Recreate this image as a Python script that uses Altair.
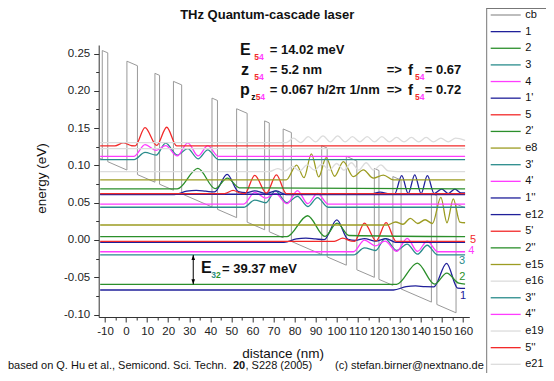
import altair as alt
import pandas as pd

FONT = "Liberation Sans"

# ---------------- legend / series names and colours ----------------
states = ["cb", "1", "2", "3", "4", "1'", "5", "2'", "e8", "3'", "4'", "1''", "e12",
          "5'", "2''", "e15", "e16", "3''", "4''", "e19", "5''", "e21"]
NAVY, GREEN, TEAL, MAG, RED, OLIVE, LGRAY, CBG = ("#20209a", "#2b8f2b", "#2a8c8c", "#ff3cff",
                                                 "#f22a2a", "#9c9c22", "#dcdcdc", "#999999")
colors = [CBG, NAVY, GREEN, TEAL, MAG, NAVY, RED, GREEN, OLIVE, TEAL, MAG, NAVY, NAVY,
          RED, GREEN, OLIVE, LGRAY, TEAL, MAG, LGRAY, RED, LGRAY]

# ---------------- conduction band profile (nm, eV) ----------------
cb_x = [-12.3, -11.3, -11.3, -8.7, -8.7, 0.4, 0.4, 5.4, 5.4, 13.7, 13.7, 15.9, 15.9,
        22.5, 22.5, 26.4, 26.4, 40.8, 40.8, 43.4, 43.4, 52.5, 52.5, 57.5, 57.5,
        65.8, 65.8, 68.0, 68.0, 74.6, 74.6, 78.5, 78.5, 92.9, 92.9, 95.5, 95.5,
        104.6, 104.6, 109.6, 109.6, 117.9, 117.9, 120.1, 120.1, 126.7, 126.7, 130.6, 130.6,
        145.0, 145.0, 147.6, 147.6, 156.7, 156.7, 161.0]
cb_e = [0.1094, 0.1081, 0.2541, 0.2510, 0.1050, 0.0938, 0.2398, 0.2337, 0.0877, 0.0775, 0.2235,
        0.2208, 0.0748, 0.0667, 0.2127, 0.2080, 0.0620, 0.0443, 0.1903, 0.1871, 0.0411,
        0.0300, 0.1760, 0.1699, 0.0239, 0.0137, 0.1597, 0.1570, 0.0110, 0.0029, 0.1489,
        0.1441, -0.0019, -0.0195, 0.1265, 0.1233, -0.0227, -0.0338, 0.1122, 0.1060, -0.0400,
        -0.0501, 0.0959, 0.0932, -0.0528, -0.0609, 0.0851, 0.0803, -0.0657, -0.0833, 0.0627,
        0.0595, -0.0865, -0.0977, 0.0483, 0.0431]

# ---------------- wavefunctions (psi^2 drawn at eigen-energy) ----------------
x_1 = [-12.3, 127.0, 133.0, 137.5, 142.0, 146.2, 152.2, 157.5, 161.0]
e_1 = [-0.0671, -0.0671, -0.0626, -0.0616, -0.0626, -0.0628, -0.0313, -0.0645, -0.0648]
x_1p = [-12.3, 75.0, 80.9, 85.4, 89.9, 94.1, 100.1, 105.4, 109.0, 113.2, 118.5, 123.5, 128.0, 161.0]
e_1p = [-0.0031, -0.0031, 0.0014, 0.0024, 0.0014, 0.0004, 0.0269, 0.0009, -0.0006, 0.0019,
        -0.0016, 0.0019, -0.0031, -0.0031]
x_1pp = [-12.3, 22.9, 28.8, 33.3, 37.8, 42.0, 48.0, 53.3, 56.9, 61.1, 66.4, 71.4, 75.9, 161.0]
e_1pp = [0.0609, 0.0609, 0.0654, 0.0664, 0.0654, 0.0644, 0.0879, 0.0649, 0.0634, 0.0659,
         0.0624, 0.0659, 0.0609, 0.0609]
x_2 = [-12.3, 128.5, 138.3, 146.5, 152.3, 158.0, 161.0]
e_2 = [-0.0595, -0.0595, -0.0310, -0.0592, -0.0445, -0.0580, -0.0592]
x_2p = [-12.3, 76.4, 86.2, 94.4, 100.2, 105.9, 161.0]
e_2p = [0.0045, 0.0045, 0.0325, 0.0048, 0.0225, 0.0060, 0.0045]
x_2pp = [-12.3, 24.3, 34.1, 42.3, 48.1, 53.8, 161.0]
e_2pp = [0.0685, 0.0685, 0.0960, 0.0688, 0.0830, 0.0700, 0.0685]
x_3 = [-12.3, 108.0, 113.2, 118.5, 123.0, 128.5, 133.5, 138.4, 143.0, 148.0, 161.0]
e_3 = [-0.0201, -0.0201, -0.0106, -0.0141, 0.0019, -0.0141, -0.0056, -0.0191, -0.0071, -0.0201, -0.0201]
x_3p = [-12.3, 55.9, 61.1, 66.4, 70.9, 76.4, 81.4, 86.3, 90.9, 95.9, 161.0]
e_3p = [0.0439, 0.0439, 0.0534, 0.0499, 0.0659, 0.0499, 0.0584, 0.0449, 0.0569, 0.0439, 0.0439]
x_3pp = [-12.3, 3.8, 9.0, 14.3, 18.8, 24.3, 29.3, 34.2, 38.8, 43.8, 161.0]
e_3pp = [0.1079, 0.1079, 0.1174, 0.1139, 0.1299, 0.1139, 0.1224, 0.1089, 0.1209, 0.1079, 0.1079]
x_4 = [-12.3, 108.0, 113.2, 118.5, 123.0, 128.5, 133.5, 138.4, 143.0, 148.0, 161.0]
e_4 = [-0.0158, -0.0158, -0.0001, -0.0078, -0.0015, -0.0153, 0.0022, -0.0153, -0.0015, -0.0158, -0.0158]
x_4p = [-12.3, 55.9, 61.1, 66.4, 70.9, 76.4, 81.4, 86.3, 90.9, 95.9, 161.0]
e_4p = [0.0482, 0.0482, 0.0639, 0.0562, 0.0625, 0.0487, 0.0662, 0.0487, 0.0625, 0.0482, 0.0482]
x_4pp = [-12.3, 3.8, 9.0, 14.3, 18.8, 24.3, 29.3, 34.2, 38.8, 43.8, 161.0]
e_4pp = [0.1122, 0.1122, 0.1279, 0.1202, 0.1265, 0.1127, 0.1302, 0.1127, 0.1265, 0.1122, 0.1122]
x_5 = [-12.3, 98.9, 102.9, 106.9, 108.5, 113.2, 118.75, 123.5, 128.2, 161.0]
e_5 = [-0.0018, -0.0018, 0.0024, -0.0016, -0.0018, 0.0227, -0.0012, 0.0232, -0.0018, -0.0018]
x_5p = [-12.3, 46.8, 50.8, 54.8, 56.4, 61.1, 66.65, 71.4, 76.1, 161.0]
e_5p = [0.0622, 0.0622, 0.0664, 0.0624, 0.0622, 0.0867, 0.0628, 0.0872, 0.0622, 0.0622]
x_5pp = [-12.3, -5.3, -1.3, 2.7, 4.3, 9.0, 14.55, 19.3, 24.0, 161.0]
e_5pp = [0.1262, 0.1262, 0.1304, 0.1264, 0.1262, 0.1507, 0.1268, 0.1512, 0.1262, 0.1262]
x_e8 = [-12.3, 124.0, 128.0, 131.5, 135.0, 138.5, 142.0, 145.5, 149.5, 152.4, 155.4, 158.5, 161.0]
e_e8 = [0.0201, 0.0201, 0.0241, 0.0211, 0.0291, 0.0221, 0.0271, 0.0221, 0.0571, 0.0231, 0.0551, 0.0241, 0.0231]
x_e12 = [-12.3, 116.0, 120.6, 125.0, 127.5, 130.9, 134.0, 137.1, 140.1, 143.1, 146.3, 149.9,
         153.0, 156.2, 159.0, 161.0]
e_e12 = [0.0613, 0.0613, 0.0643, 0.0618, 0.0613, 0.0863, 0.0623, 0.0873, 0.0623, 0.0863,
         0.0623, 0.0683, 0.0623, 0.0683, 0.0633, 0.0633]
x_e15 = [-12.3, 76.0, 81.0, 84.5, 88.0, 91.5, 95.0, 99.0, 103.2, 107.9, 112.7, 117.4, 122.2, 127.0, 161.0]
e_e15 = [0.0805, 0.0805, 0.1005, 0.0835, 0.1155, 0.0845, 0.1105, 0.0855, 0.1050, 0.0850,
         0.0940, 0.0830, 0.0870, 0.0805, 0.0805]
x_e16 = [-12.3, 68.0, 72.0, 75.5, 79.0, 82.5, 86.0, 89.5, 93.0, 96.5, 100.0, 103.5, 107.0,
         110.5, 114.0, 117.5, 121.0, 124.5, 129.0, 161.0]
e_e16 = [0.0916, 0.0916, 0.0956, 0.0926, 0.0986, 0.0926, 0.1006, 0.0936, 0.1016, 0.0936,
         0.1026, 0.0936, 0.1036, 0.0936, 0.1036, 0.0936, 0.1006, 0.0926, 0.0916, 0.0916]
x_e19 = [-12.3, 161.0]
e_e19 = [0.1226, 0.1226]
x_e21 = [-12.3, 76.0, 79.5, 83.0, 86.5, 90.0, 93.5, 97.0, 100.5, 104.0, 107.5, 111.0, 114.5,
         118.0, 121.5, 125.0, 128.5, 132.0, 135.5, 139.0, 142.5, 146.0, 149.5, 153.0, 156.5, 161.0]
e_e21 = [0.1305, 0.1305, 0.1365, 0.1305, 0.1385, 0.1315, 0.1395, 0.1315, 0.1395, 0.1315,
         0.1385, 0.1315, 0.1385, 0.1315, 0.1385, 0.1315, 0.1375, 0.1315, 0.1375, 0.1315,
         0.1375, 0.1315, 0.1365, 0.1315, 0.1365, 0.1335]

# E32 arrow: between levels 3 and 2, at this distance
arrow_x = 31.9
level_3 = -0.0201
level_2 = -0.0595

# axis ticks
x_ticks = [-10, -5, 0, 5, 10, 15, 20, 25, 30, 35, 40, 45, 50, 55, 60, 65, 70, 75, 80, 85,
           90, 95, 100, 105, 110, 115, 120, 125, 130, 135, 140, 145, 150, 155, 160]
y_ticks = [-0.1, -0.075, -0.05, -0.025, 0.0, 0.025, 0.05, 0.075, 0.1, 0.125, 0.15,
           0.175, 0.2, 0.225, 0.25]

curves = {
    "1": (x_1, e_1), "2": (x_2, e_2), "3": (x_3, e_3), "4": (x_4, e_4), "1'": (x_1p, e_1p),
    "5": (x_5, e_5), "2'": (x_2p, e_2p), "e8": (x_e8, e_e8), "3'": (x_3p, e_3p),
    "4'": (x_4p, e_4p), "1''": (x_1pp, e_1pp), "e12": (x_e12, e_e12), "5'": (x_5p, e_5p),
    "2''": (x_2pp, e_2pp), "e15": (x_e15, e_e15), "e16": (x_e16, e_e16),
    "3''": (x_3pp, e_3pp), "4''": (x_4pp, e_4pp), "e19": (x_e19, e_e19),
    "5''": (x_5pp, e_5pp), "e21": (x_e21, e_e21),
}
rows = []
for s in states[1:]:
    xs, es = curves[s]
    for i, (a, b) in enumerate(zip(xs, es)):
        rows.append({"state": s, "i": i, "x": a, "E": b})
waves = pd.DataFrame(rows)
cb = pd.DataFrame({"x": cb_x, "E": cb_e, "i": list(range(len(cb_x)))})
arrow = pd.DataFrame({"x": [arrow_x], "E": [level_3], "E2": [level_2]})
arrow_up = pd.DataFrame({"x": [arrow_x], "E": [level_3]})
arrow_dn = pd.DataFrame({"x": [arrow_x], "E": [level_2]})
leg = pd.DataFrame({"state": states})
dummy = pd.DataFrame({"d": [0]})

# ---------------- scales / axes ----------------
xscale = alt.Scale(domain=[-13.0, 163.0], nice=False, zero=False)
yscale = alt.Scale(domain=[-0.1033, 0.2615], nice=False, zero=False)
cscale = alt.Scale(domain=states, range=colors)

xmaj = "datum.value % 10 === 0"
ymaj = "abs(datum.value * 20 - round(datum.value * 20)) < 0.001"
xaxis = alt.Axis(values=x_ticks, labelExpr=xmaj + " ? replace(datum.label, '\u2212', '-') : ''",
                 tickSize={"condition": {"test": xmaj, "value": 5}, "value": 3},
                 labelOverlap=False, labelFlush=False, labelPadding=3,
                 titleY=36, titleBaseline="middle", titleX=184)
yaxis = alt.Axis(values=y_ticks,
                 labelExpr=ymaj + " ? replace(format(datum.value, '.2f'), '\u2212', '-') : ''",
                 tickSize={"condition": {"test": ymaj, "value": 5}, "value": 3},
                 labelOverlap=False, labelFlush=False, labelPadding=4,
                 titleX=-57, titleY=133, titleBaseline="middle", titleAngle=270)

X = alt.X("x:Q", scale=xscale, axis=xaxis, title="distance (nm)")
Y = alt.Y("E:Q", scale=yscale, axis=yaxis, title="energy (eV)")

cb_layer = alt.Chart(cb).mark_line(color=CBG, strokeWidth=1, clip=True).encode(
    x=X, y=Y, order=alt.Order("i:Q"))
wave_layer = alt.Chart(waves).mark_line(strokeWidth=1.3, interpolate="monotone", clip=True).encode(
    x=X, y=Y, order=alt.Order("i:Q"),
    color=alt.Color("state:N", scale=cscale, legend=None))
arrow_rule = alt.Chart(arrow).mark_rule(color="black", strokeWidth=1).encode(
    x=X, y=Y, y2=alt.Y2("E2:Q"))
head_up = alt.Chart(arrow_up).mark_point(shape="M0,0L-0.6,1.7L0.6,1.7Z", filled=True, size=36,
                                         color="black", opacity=1).encode(x=X, y=Y)
head_dn = alt.Chart(arrow_dn).mark_point(shape="M0,0L-0.6,-1.7L0.6,-1.7Z", filled=True, size=36,
                                         color="black", opacity=1).encode(x=X, y=Y)
main = alt.layer(cb_layer, wave_layer, arrow_rule, head_up, head_dn)

# ---------------- legend panel ----------------
legY = alt.Y("state:N", scale=alt.Scale(type="point", domain=states, range=[-30, 319.3], padding=0),
             axis=None)
leg_lines = alt.Chart(leg).mark_rule(strokeWidth=1.3).encode(
    x=alt.value(392), x2=alt.value(422), y=legY,
    color=alt.Color("state:N", scale=cscale, legend=None))
leg_text = alt.Chart(leg).mark_text(align="left", baseline="middle", font=FONT, fontSize=11,
                                    color="#111").encode(x=alt.value(426.5), y=legY, text="state:N")
legend = alt.layer(leg_lines, leg_text)
box_left = alt.Chart(dummy).mark_rule(color="#777", strokeWidth=1).encode(
    x=alt.value(388), y=alt.value(-37), y2=alt.value(328))
box_top = alt.Chart(dummy).mark_rule(color="#777", strokeWidth=1).encode(
    x=alt.value(388), x2=alt.value(448), y=alt.value(-36.5))


def label(txt, x, y, size=13, bold=True, color="#111", align="left"):
    return alt.Chart(dummy).mark_text(text=txt, font=FONT, fontSize=size,
                                      fontWeight="bold" if bold else "normal",
                                      color=color, align=align, baseline="middle").encode(
        x=alt.value(x), y=alt.value(y))


texts = [
    label("THz Quantum-cascade laser", 168.5, -30, size=13, align="center"),
    # E54
    label("E", 141.3, 4.5, size=16), label("5", 155.5, 11.5, size=8.5, color=RED),
    label("4", 160.2, 11.5, size=8.5, color=MAG), label("= 14.02 meV", 171.0, 4.5),
    # z54
    label("z", 142.3, 25, size=16), label("5", 155.5, 32, size=8.5, color=RED),
    label("4", 160.2, 32, size=8.5, color=MAG), label("= 5.2 nm", 171.0, 25),
    label("=>", 288.0, 25), label("f", 309.3, 25, size=15),
    label("5", 316.3, 32, size=8.5, color=RED), label("4", 321.0, 32, size=8.5, color=MAG),
    label("= 0.67", 326.0, 25),
    # pz54
    label("p", 141.3, 45, size=16), label("z", 152.6, 52, size=8.5),
    label("5", 157.0, 52, size=8.5, color=RED), label("4", 161.5, 52, size=8.5, color=MAG),
    label("= 0.067 h/2\u03c0 1/nm", 171.0, 45),
    label("=>", 288.0, 45), label("f", 309.3, 45, size=15),
    label("5", 316.3, 52, size=8.5, color=RED), label("4", 321.0, 52, size=8.5, color=MAG),
    label("= 0.72", 326.0, 45),
    # E32
    label("E", 102.3, 223.3, size=16), label("3", 112.5, 230, size=8.5, color=TEAL),
    label("2", 117.2, 230, size=8.5, color=GREEN), label("= 39.37 meV", 123.3, 223.5),
    # state labels on the right
    label("5", 371.3, 195, size=11, bold=False, color=RED),
    label("4", 369.6, 206, size=11, bold=False, color=MAG),
    label("3", 360.3, 216, size=11, bold=False, color=TEAL),
    label("2", 360.6, 232, size=11, bold=False, color=GREEN),
    label("1", 361.3, 251, size=11, bold=False, color=NAVY),
    # footer
    label("based on Q. Hu et al., Semicond. Sci. Techn.", -90.7, 321, size=11, bold=False),
    label("20", 134.3, 321, size=11, bold=True),
    label(", S228 (2005)", 146.8, 321, size=11, bold=False),
    label("(c) stefan.birner@nextnano.de", 236.3, 321, size=11, bold=False),
]

chart = alt.layer(main, legend, box_left, box_top, *texts).resolve_scale(y="independent").properties(
    width=370.6, height=272,
    autosize=alt.AutoSizeParams(type="none"),
    padding={"left": 90.7, "top": 37, "right": 76.7, "bottom": 56},
    background="white",
).configure_view(strokeWidth=0).configure_axis(
    grid=False, domainColor="#333", tickColor="#333", labelColor="#222", labelFont=FONT,
    labelFontSize=11.5, titleFont=FONT, titleFontSize=13.5, titleFontWeight="normal",
    titleColor="#111", domainWidth=1, tickWidth=1)

chart.save("out.html", embed_options={"renderer": "svg", "actions": False})
